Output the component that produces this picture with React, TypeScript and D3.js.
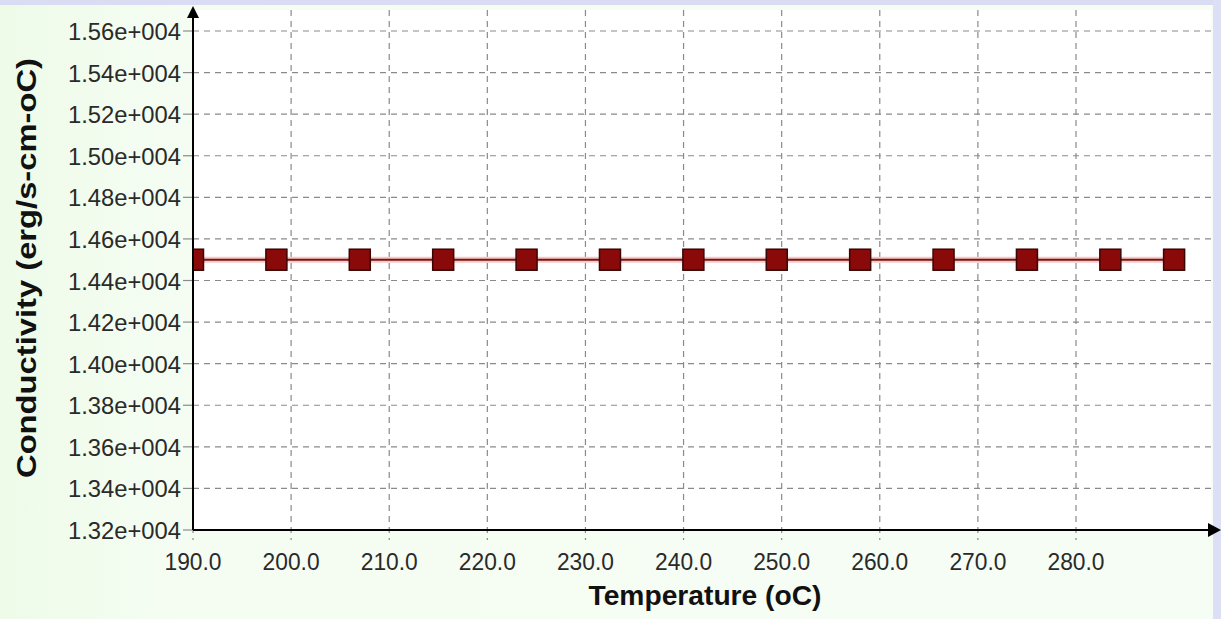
import React from "react";
import * as d3 from "d3";

const temperatures = [190, 198.5, 207, 215.5, 224, 232.5, 241, 249.5, 258, 266.5, 275, 283.5, 290];
const conductivity = [14500, 14500, 14500, 14500, 14500, 14500, 14500, 14500, 14500, 14500, 14500, 14500, 14500];
const xTicks = [190, 200, 210, 220, 230, 240, 250, 260, 270, 280];
const xTickLabels = ["190.0", "200.0", "210.0", "220.0", "230.0", "240.0", "250.0", "260.0", "270.0", "280.0"];
const yTicks = [13200, 13400, 13600, 13800, 14000, 14200, 14400, 14600, 14800, 15000, 15200, 15400, 15600];
const yTickLabels = ["1.32e+004", "1.34e+004", "1.36e+004", "1.38e+004", "1.40e+004", "1.42e+004", "1.44e+004", "1.46e+004", "1.48e+004", "1.50e+004", "1.52e+004", "1.54e+004", "1.56e+004"];
const xTitle = "Temperature (oC)";
const yTitle = "Conductivity (erg/s-cm-oC)";

export default function App() {
  const W = 1221, H = 619;
  const left = 193, right = 1211, top = 10, bottom = 530;
  const x = d3.scaleLinear().domain([190, 280]).range([left, 1076]);
  const y = d3.scaleLinear().domain([13200, 15600]).range([bottom, 31]);
  const pts = temperatures.map((t, i) => [x(t), y(conductivity[i])] as [number, number]);
  const line = d3.line()(pts) || "";
  const font = "'Liberation Sans', Arial, sans-serif";
  const ms = 21;
  return (
    <svg width={W} height={H} style={{ position: "fixed", left: 0, top: 0 }} fontFamily={font}>
      <defs>
        <clipPath id="plotclip">
          <rect x={left} y={0} width={right - left + 10} height={bottom} />
        </clipPath>
        <linearGradient id="bg" x1="0" x2="1" y1="0" y2="0">
          <stop offset="0" stopColor="#eefbe9" />
          <stop offset="0.15" stopColor="#f5fdf3" />
          <stop offset="1" stopColor="#f6fdf5" />
        </linearGradient>
      </defs>
      <rect x={0} y={0} width={W} height={H} fill="url(#bg)" />
      <rect x={0} y={0} width={W} height={5} fill="#d9dcf3" />
      <rect x={1213} y={0} width={8} height={H} fill="#dcdff5" />
      <rect x={left} y={top} width={right - left} height={bottom - top} fill="#ffffff" />
      {yTicks.map((v) => (
        <line key={"gy" + v} x1={left} x2={right} y1={y(v)} y2={y(v)} stroke="#8a8a8a" strokeWidth={1.2} strokeDasharray="6,5" />
      ))}
      {xTicks.map((v) => (
        <line key={"gx" + v} x1={x(v)} x2={x(v)} y1={top} y2={bottom + 10} stroke="#8a8a8a" strokeWidth={1.2} strokeDasharray="6,5" />
      ))}
      {yTicks.map((v) => (
        <line key={"ty" + v} x1={left - 10} x2={left} y1={y(v)} y2={y(v)} stroke="#8a8a8a" strokeWidth={1.2} />
      ))}
      <g clipPath="url(#plotclip)">
        <path d={line} fill="none" stroke="#f6c9c9" strokeWidth={6} />
        <path d={line} fill="none" stroke="#7a1414" strokeWidth={2} />
        {pts.map(([px, py], i) => (
          <rect key={i} x={px - ms / 2} y={py - ms / 2} width={ms} height={ms} fill="#8a0a0a" stroke="#3a0505" strokeWidth={1.5} />
        ))}
      </g>
      <line x1={left} x2={left} y1={bottom} y2={16} stroke="#000" strokeWidth={2} />
      <path d={`M${left - 6},${18} L${left},${6} L${left + 6},${18} Z`} fill="#000" />
      <line x1={left} x2={1210} y1={bottom} y2={bottom} stroke="#000" strokeWidth={2} />
      <path d={`M${1208},${bottom - 7} L${1221},${bottom} L${1208},${bottom + 7} Z`} fill="#000" />
      {yTicks.map((v, i) => (
        <text key={"ly" + v} x={181} y={y(v) + 9} textAnchor="end" fontSize={24} fill="#2a2a2a" textLength={113} lengthAdjust="spacingAndGlyphs">
          {yTickLabels[i]}
        </text>
      ))}
      {xTicks.map((v, i) => (
        <text key={"lx" + v} x={x(v)} y={570} textAnchor="middle" fontSize={24} fill="#2a2a2a" textLength={57} lengthAdjust="spacingAndGlyphs">
          {xTickLabels[i]}
        </text>
      ))}
      <text x={705} y={605} textAnchor="middle" fontSize={27} fontWeight="bold" fill="#111" textLength={233} lengthAdjust="spacingAndGlyphs">
        {xTitle}
      </text>
      <text transform={`translate(36,268) rotate(-90)`} textAnchor="middle" fontSize={27} fontWeight="bold" fill="#111" textLength={420} lengthAdjust="spacingAndGlyphs">
        {yTitle}
      </text>
    </svg>
  );
}
